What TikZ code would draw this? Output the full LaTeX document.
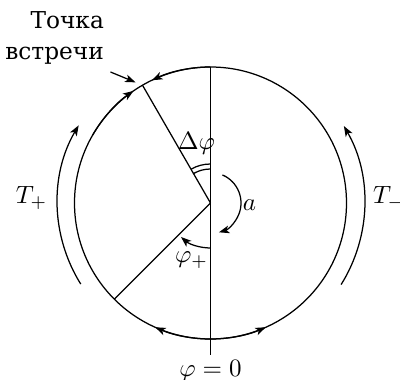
\documentclass[tikz,border=0pt]{standalone}
\usepackage[no-math]{fontspec}
\newfontfamily\cyr{DejaVu Serif}
\usetikzlibrary{arrows.meta,calc}
\tikzset{
  tip/.style={-{Stealth[length=4.2pt,width=3.1pt,inset=1.1pt]}},
  ln/.style={line width=0.5pt},
}
\begin{document}
\begin{tikzpicture}[x=0.4pt,y=0.4pt,ln]
\useasboundingbox (-210.5,-177) rectangle (189.5,203);
\def\R{136}
\node[circle,minimum size=272*0.4pt,inner sep=0pt,draw,ln] (c) at (0,0) {};
\coordinate (o) at (0,0);
\coordinate (top) at (90:\R);
\coordinate (bot) at (0,-152);
\coordinate (m) at (120:\R);
\coordinate (p) at (225:\R);
% vertical line and radii
\draw (top) -- (bot);
\draw (o) -- (m);
\draw (o) -- (p);
% arrows on circle
\draw[tip] (270:\R) arc (270:246:\R);
\draw[tip] (270:\R) arc (270:294:\R);
\draw[tip] (150:\R) arc (150:124.5:\R);
\draw[tip] (90:\R) arc (90:115.5:\R);
% outer arcs
\draw[tip] (212:153) arc (212:149.5:153);
\draw[tip] (-32:154) arc (-32:30:154);
\node (tp) at (-179,5) {$T_+$};
\node[anchor=west,inner sep=0pt] (tm) at (162,5) {$T_-$};
% angle marks
\draw (90:34) arc (90:120:34);
\draw (90:39) arc (90:120:39);
\node (dphi) at (-14,60) {$\Delta\varphi$};
\draw[tip] (270:45) arc (270:229:45);
\node (phip) at (-19,-57) {$\varphi_+$};
\draw[tip] (67:30.5) arc (67:-74:30.5);
\node (a) at (39,-2) {$a$};
% meeting point label
\node[align=right,anchor=east,inner sep=0pt,font=\cyr\fontsize{9.3}{12.5}\selectfont] (lab) at (-106,165) {Точка\\встречи};
\coordinate (ls) at (-100,131);
\draw[tip,shorten >=7.5*0.4pt] (ls) -- (m);
\node[anchor=north,inner sep=2pt] (z) at (bot) {$\varphi=0$};
\end{tikzpicture}
\end{document}
